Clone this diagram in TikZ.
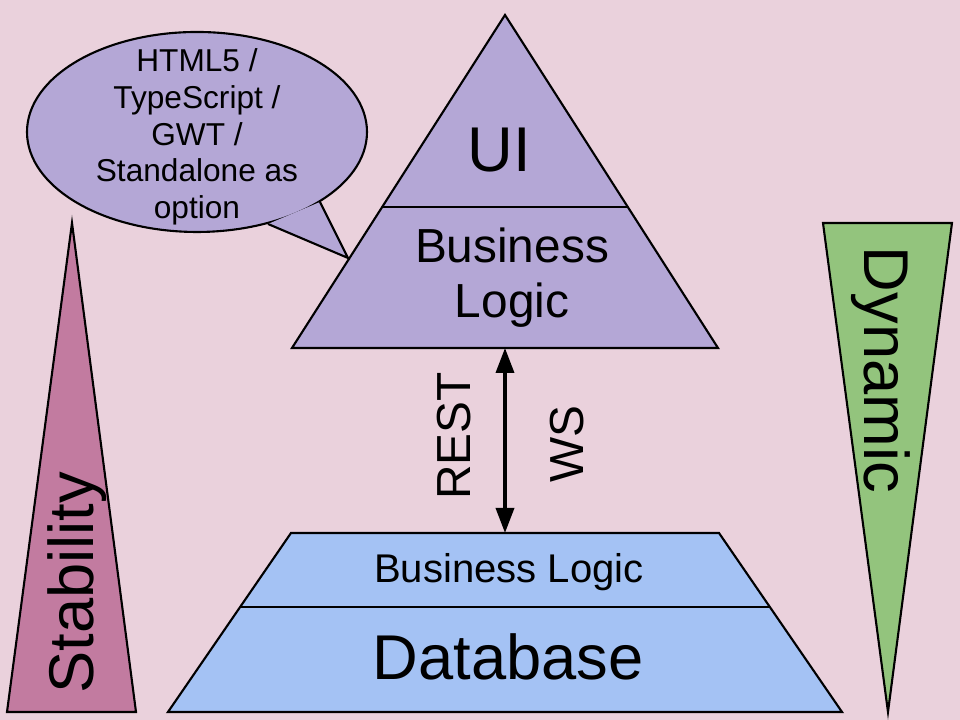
\documentclass[tikz,border=0pt]{standalone}
\usepackage{fontspec}
\setmainfont{Liberation Sans}
\usepackage{tikz}
\usetikzlibrary{calc,positioning,arrows.meta}
\definecolor{bgpink}{HTML}{EAD1DC}
\definecolor{lav}{HTML}{B4A7D6}
\definecolor{rose}{HTML}{C27BA0}
\definecolor{leaf}{HTML}{93C47D}
\definecolor{sky}{HTML}{A4C2F4}

\begin{document}
\begin{tikzpicture}[shp/.style={draw=black,line width=0.6pt,line join=miter},
                    huge/.style={font=\fontsize{18}{20}\selectfont},
                    mid/.style={font=\fontsize{13.6}{15.6}\selectfont,align=center},
                    small/.style={font=\fontsize{11.4}{13}\selectfont},
                    tiny/.style={font=\fontsize{9}{10.45}\selectfont,align=center}]
                      \fill[bgpink] (0,0) rectangle (9.6,7.2);
                      \useasboundingbox (0,0) rectangle (9.6,7.2);

                      % client pyramid
                      \coordinate (t1) at (5.05,7.05);
                      \coordinate (t2) at (2.92,3.72);
                      \coordinate (t3) at (7.18,3.72);
                      \coordinate (tmid) at ($(t2)!0.5!(t3)$);
                      \draw[shp,fill=lav] (t1) -- (t2) -- (t3) -- cycle;
                      \draw[line width=0.6pt] ($(t2)!0.4234!(t1)$) -- ($(t3)!0.4234!(t1)$);
                      \node[huge] (ui) at (4.99,5.70) {UI};
                      \node[mid] (cbl) at (5.12,4.42) {Business\\Logic};

                      % speech bubble
                      \draw[shp,fill=lav] (1.97,5.88) ellipse [x radius=1.70,y radius=1.00];
                      \coordinate (p1) at (3.20,5.18);
                      \coordinate (p2) at (3.48,4.62);
                      \coordinate (p3) at (2.68,4.96);
                      \fill[lav] (p1) -- (p2) -- (p3) -- cycle;
                      \draw[line width=0.6pt] (p1) -- (p2) -- (p3);
                      \node[tiny] (bubble) at (1.97,5.83) {HTML5 /\\TypeScript /\\GWT /\\Standalone as\\option};

                      % server trapezoid
                      \coordinate (b1) at (2.91,1.87);
                      \coordinate (b2) at (7.19,1.87);
                      \coordinate (b3) at (8.42,0.08);
                      \coordinate (b4) at (1.68,0.08);
                      \coordinate (bmid) at ($(b1)!0.5!(b2)$);
                      \draw[shp,fill=sky] (b1) -- (b2) -- (b3) -- (b4) -- cycle;
                      \draw[line width=0.6pt] ($(b4)!0.587!(b1)$) -- ($(b3)!0.587!(b2)$);
                      \node[small] (sbl) at (5.09,1.48) {Business Logic};
                      \node[huge] (db) at (5.08,0.63) {Database};

                      % side wedges
                      \draw[shp,fill=rose] (0.72,4.97) -- (1.36,0.08) -- (0.07,0.08) -- cycle;
                      \draw[shp,fill=leaf] (8.23,4.97) -- (9.52,4.97) -- (8.88,0.08) -- cycle;
                      \node[huge,rotate=90] (stab) at (0.77,1.37) {Stability};
                      \node[huge,rotate=-90] (dyn) at (8.81,3.50) {Dynamic};

                      % link
                      \draw[{Triangle[length=0.25cm,width=0.18cm]}-{Triangle[length=0.25cm,width=0.18cm]},line width=1pt] (tmid) -- (bmid);
                      \node[mid,rotate=90] (rest) at (4.54,2.84) {REST};
                      \node[mid,rotate=90] (ws) at (5.67,2.76) {WS};
                    \end{tikzpicture}
\end{document}
